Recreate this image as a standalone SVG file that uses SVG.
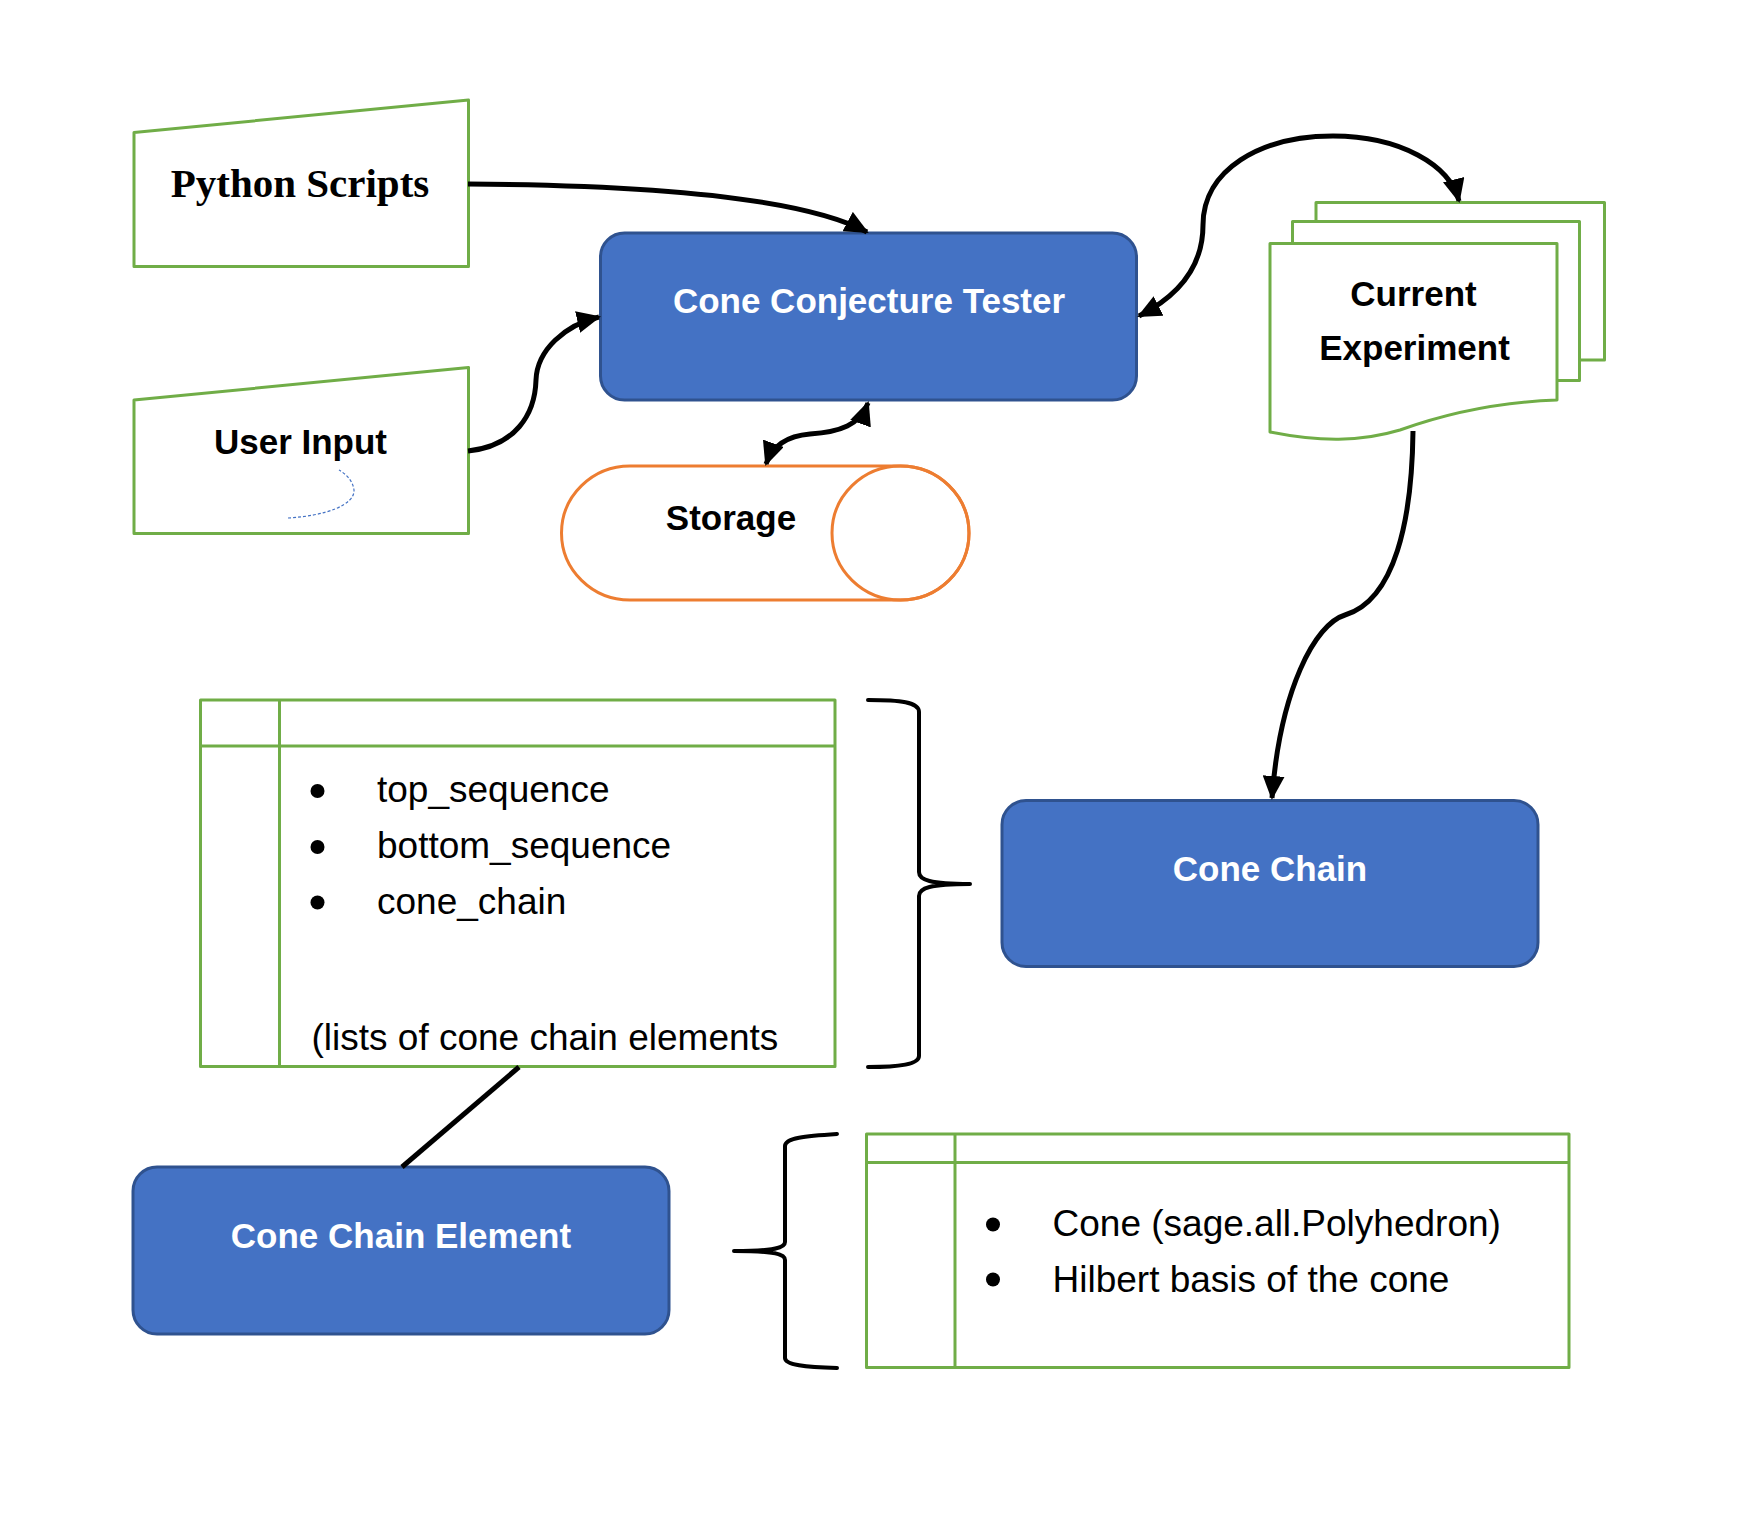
<svg xmlns="http://www.w3.org/2000/svg" width="1737" height="1537" viewBox="0 0 1737 1537">
<style>
.box{fill:#fff;stroke:#70AD47;stroke-width:3;stroke-linejoin:round}
.proc{fill:#4472C4;stroke:#2F528F;stroke-width:3}
.wt{font-family:"Liberation Sans",Arial,sans-serif;font-weight:bold;font-size:35px;fill:#fff;text-anchor:middle}
.bt{font-family:"Liberation Sans",Arial,sans-serif;font-weight:bold;font-size:35px;fill:#000;text-anchor:middle}
.rt{font-family:"Liberation Sans",Arial,sans-serif;font-size:37px;fill:#000}
.con{fill:none;stroke:#000;stroke-width:5}
.brace{fill:none;stroke:#000;stroke-width:4;stroke-linecap:round;stroke-linejoin:round}
.bul{fill:#000}
</style>
<defs>
<marker id="ah" viewBox="0 0 24 22" refX="22" refY="11" markerWidth="24" markerHeight="22" markerUnits="userSpaceOnUse" orient="auto-start-reverse">
<path d="M0,0 L24,11 L0,22 z" fill="#000"/>
</marker>
</defs>
<rect width="1737" height="1537" fill="#fff"/>

<g id="python-scripts">
<path class="box" d="M134,132.5 L468.5,100 L468.5,266.5 L134,266.5 Z"/>
<text x="300" y="197" font-family="'Liberation Serif','Times New Roman',serif" font-weight="bold" font-size="41" text-anchor="middle" fill="#000">Python Scripts</text>
</g>

<g id="user-input">
<path class="box" d="M134,400 L468.5,367.5 L468.5,533.5 L134,533.5 Z"/>
<text class="bt" x="300.5" y="454">User Input</text>
<path d="M288,518 C325,516 355,505 354,490 C353,481 346,474 339,470" fill="none" stroke="#4472C4" stroke-width="1.2" stroke-dasharray="3,2"/>
</g>

<g id="cone-conjecture-tester">
<rect class="proc" x="600.5" y="233" width="536" height="167" rx="24"/>
<text class="wt" x="869" y="313">Cone Conjecture Tester</text>
</g>

<g id="storage">
<path d="M630,466 L900.5,466 A68.5,67 0 0 1 900.5,600 L630,600 A68.5,67 0 0 1 630,466 Z" fill="#fff" stroke="#ED7D31" stroke-width="3"/>
<ellipse cx="900.5" cy="533" rx="68.5" ry="67" fill="none" stroke="#ED7D31" stroke-width="3"/>
<text class="bt" x="731" y="530">Storage</text>
</g>

<g id="current-experiment">
<path class="box" d="M1316,221.5 L1316,202.5 L1604.5,202.5 L1604.5,360 L1579.5,360"/>
<path class="box" d="M1292.5,243.5 L1292.5,221.5 L1579.5,221.5 L1579.5,380.5 L1557,380.5"/>
<path class="box" d="M1270,243.5 L1557,243.5 L1557,400 C1500,402 1450,412 1400,430 C1360,442 1320,442 1270,432 Z"/>
<text class="bt" x="1413.5" y="305.5">Current</text>
<text class="bt" x="1414.5" y="360">Experiment</text>
</g>

<g id="cone-chain">
<rect class="proc" x="1002" y="800.5" width="536" height="166" rx="24"/>
<text class="wt" x="1270" y="881">Cone Chain</text>
</g>

<g id="cone-chain-table">
<rect class="box" x="200.5" y="700" width="634.5" height="366.5"/>
<line x1="200.5" y1="746" x2="835" y2="746" stroke="#70AD47" stroke-width="3"/>
<line x1="279.5" y1="700" x2="279.5" y2="1066.5" stroke="#70AD47" stroke-width="3"/>
<circle class="bul" cx="317.5" cy="791" r="7"/>
<circle class="bul" cx="317.5" cy="847" r="7"/>
<circle class="bul" cx="317.5" cy="902.5" r="7"/>
<text class="rt" x="377" y="802">top_sequence</text>
<text class="rt" x="377" y="858">bottom_sequence</text>
<text class="rt" x="377" y="914">cone_chain</text>
<text class="rt" x="311.5" y="1050">(lists of cone chain elements</text>
</g>

<g id="cone-chain-element">
<rect class="proc" x="133" y="1167" width="536" height="167" rx="24"/>
<text class="wt" x="401" y="1247.5">Cone Chain Element</text>
</g>

<g id="cone-chain-element-table">
<rect class="box" x="866.5" y="1134" width="702.5" height="233.5"/>
<line x1="866.5" y1="1162.5" x2="1569" y2="1162.5" stroke="#70AD47" stroke-width="3"/>
<line x1="955" y1="1134" x2="955" y2="1367.5" stroke="#70AD47" stroke-width="3"/>
<circle class="bul" cx="993" cy="1224.5" r="7"/>
<circle class="bul" cx="993" cy="1279.5" r="7"/>
<text class="rt" x="1052.5" y="1236">Cone (sage.all.Polyhedron)</text>
<text class="rt" x="1052.5" y="1292">Hilbert basis of the cone</text>
</g>

<g id="braces">
<path class="brace" d="M868,700 C900,700 919,702 919,712 L919,872 C919,880 930,884 970,884 C930,884 919,888 919,896 L919,1056 C919,1064 900,1067 868,1067"/>
<path class="brace" d="M837,1134 C805,1136 785,1138 785,1146 L785,1242 C785,1248 775,1251 734,1251 C775,1251 785,1254 785,1260 L785,1358 C785,1365 805,1367 837,1368"/>
</g>

<g id="connectors">
<path class="con" d="M468,184 C640,185 800,196 867,232" marker-end="url(#ah)"/>
<path class="con" d="M468,451 C515,446 535,415 536,380 C537,350 565,325 599,317" marker-end="url(#ah)"/>
<path class="con" d="M868,403 C860,425 840,432 810,434 C785,436 772,447 766,464" marker-start="url(#ah)" marker-end="url(#ah)"/>
<path class="con" d="M1139,316 C1190,290 1203,255 1203,225 C1203,170 1260,136 1333,136 C1400,136 1450,165 1459,201" marker-start="url(#ah)" marker-end="url(#ah)"/>
<path class="con" d="M1413,431 C1412,520 1395,600 1345,615 C1315,624 1280,690 1272,798" marker-end="url(#ah)"/>
<line class="con" x1="519" y1="1067" x2="402" y2="1167"/>
</g>
</svg>
